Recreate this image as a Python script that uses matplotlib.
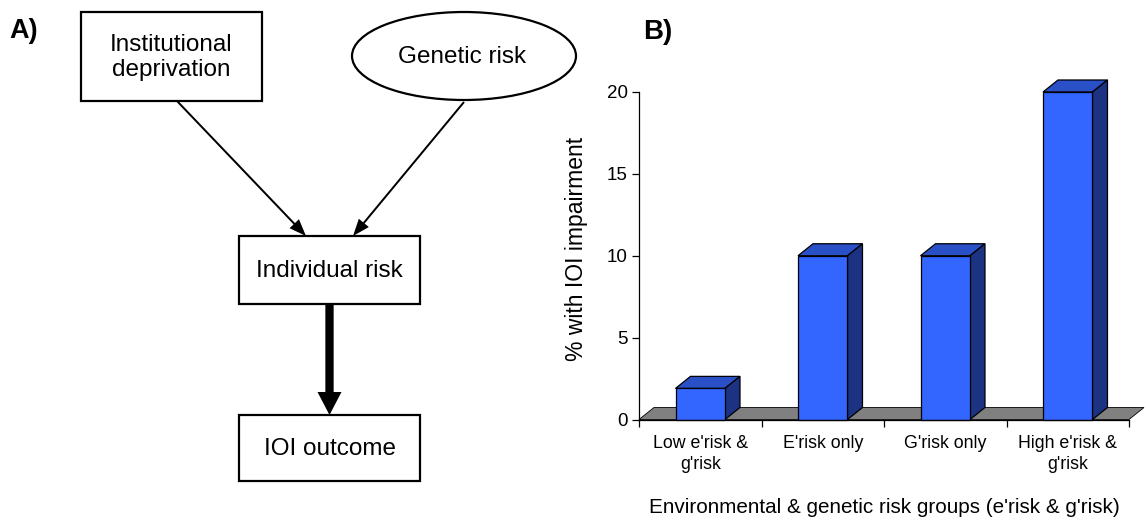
import matplotlib

matplotlib.use("Agg")
import matplotlib.pyplot as plt
from matplotlib.patches import Rectangle, Ellipse, Polygon, FancyArrow

plt.rcParams["font.family"] = ["Liberation Sans", "DejaVu Sans"]

# Panel B data: % of children with IOI impairment per risk group.
groups = ["Low e'risk &\ng'risk", "E'risk only", "G'risk only", "High e'risk &\ng'risk"]
pct_impaired = [1.9, 10, 10, 20]
y_ticks = [0, 5, 10, 15, 20]

FRONT = "#3366ff"
TOP = "#2a50c8"
SIDE = "#1b3382"
FLOOR = "#808080"

fig = plt.figure(figsize=(11.45, 5.29), dpi=100)

# ---- Panel A: path diagram, drawn in pixel-like units (y down) ----
ax0 = fig.add_axes([0, 0, 1, 1])
ax0.set_xlim(0, 1145)
ax0.set_ylim(529, 0)
ax0.axis("off")
ax0.patch.set_alpha(0)

BOX_LW = 1.6
TXT = 17.5


def box(x0, y0, x1, y1, text):
    ax0.add_patch(Rectangle((x0, y0), x1 - x0, y1 - y0, facecolor="white",
                            edgecolor="black", linewidth=BOX_LW))
    ax0.text((x0 + x1) / 2, (y0 + y1) / 2 + 1, text, ha="center", va="center",
             fontsize=TXT, linespacing=1.2)


def arrow(x0, y0, x1, y1, width, head_w, head_l):
    ax0.add_patch(FancyArrow(x0, y0, x1 - x0, y1 - y0, width=width,
                             head_width=head_w, head_length=head_l,
                             length_includes_head=True, color="black", lw=0))


box(81, 12, 262, 101, "Institutional\ndeprivation")
ax0.add_patch(Ellipse((464, 56), 224, 88, facecolor="white", edgecolor="black",
                      linewidth=BOX_LW))
ax0.text(462, 57, "Genetic risk", ha="center", va="center", fontsize=TXT)
box(239, 236, 420, 304, "Individual risk")
box(239, 415, 420, 481, "IOI outcome")

arrow(177, 101, 306, 236, 2.0, 13, 17)
arrow(464, 102, 353, 236, 2.0, 13, 17)
arrow(329.5, 304, 329.5, 415, 8.3, 24, 23)

ax0.text(9, 31, "A)", fontsize=19.5, fontweight="bold", ha="left", va="center")
ax0.text(643, 32, "B)", fontsize=20, fontweight="bold", ha="left", va="center")

# ---- Panel B: pseudo-3D bar chart ----
ax = fig.add_axes([639 / 1145, 109.5 / 529, 490 / 1145, 327.5 / 529])
ax.set_xlim(-0.5, 3.5)
ax.set_ylim(0, 20)
ax.patch.set_alpha(0)

dx, dy = 0.1224, 0.733   # depth offset in data units
xs = list(range(len(groups)))

floor = Polygon([(-0.5, 0), (3.5, 0), (3.5 + dx, dy), (-0.5 + dx, dy)],
                closed=True, facecolor=FLOOR, edgecolor="black", lw=0.6,
                zorder=1, clip_on=False)
ax.add_patch(floor)

bars = ax.bar(xs, pct_impaired, width=0.404, color=FRONT, edgecolor="black",
              linewidth=0.9, zorder=3, clip_on=False)
for r in bars:
    x0, w, h = r.get_x(), r.get_width(), r.get_height()
    x1 = x0 + w
    top = Polygon([(x0, h), (x1, h), (x1 + dx, h + dy), (x0 + dx, h + dy)],
                  closed=True, facecolor=TOP, edgecolor="black", lw=0.9,
                  zorder=2, clip_on=False)
    side = Polygon([(x1, 0), (x1 + dx, dy), (x1 + dx, h + dy), (x1, h)],
                   closed=True, facecolor=SIDE, edgecolor="black", lw=0.9,
                   zorder=2, clip_on=False)
    ax.add_patch(top)
    ax.add_patch(side)

for s in ("top", "right"):
    ax.spines[s].set_visible(False)
ax.spines["left"].set_linewidth(0.9)
ax.spines["bottom"].set_linewidth(0.9)
ax.spines["bottom"].set_zorder(4)

ax.set_yticks(y_ticks)
ax.tick_params(axis="y", direction="out", length=5, width=0.9, pad=3,
               labelsize=13.5)
ax.set_xticks(xs)
ax.set_xticklabels(groups, fontsize=12.8, linespacing=1.35)
ax.set_xticks([i - 0.5 for i in range(len(groups) + 1)], minor=True)
ax.tick_params(axis="x", which="major", length=0, pad=11)
ax.tick_params(axis="x", which="minor", direction="out", length=5, width=0.9)

ax.set_ylabel("% with IOI impairment", fontsize=16.5, va="center")
ax.yaxis.set_label_coords(-0.128, 0.522)
ax.set_xlabel("Environmental & genetic risk groups (e'risk & g'risk)",
              fontsize=14.9, va="center")
ax.xaxis.set_label_coords(0.5, -0.27)

fig.savefig("out.png", dpi=100, facecolor="white")
